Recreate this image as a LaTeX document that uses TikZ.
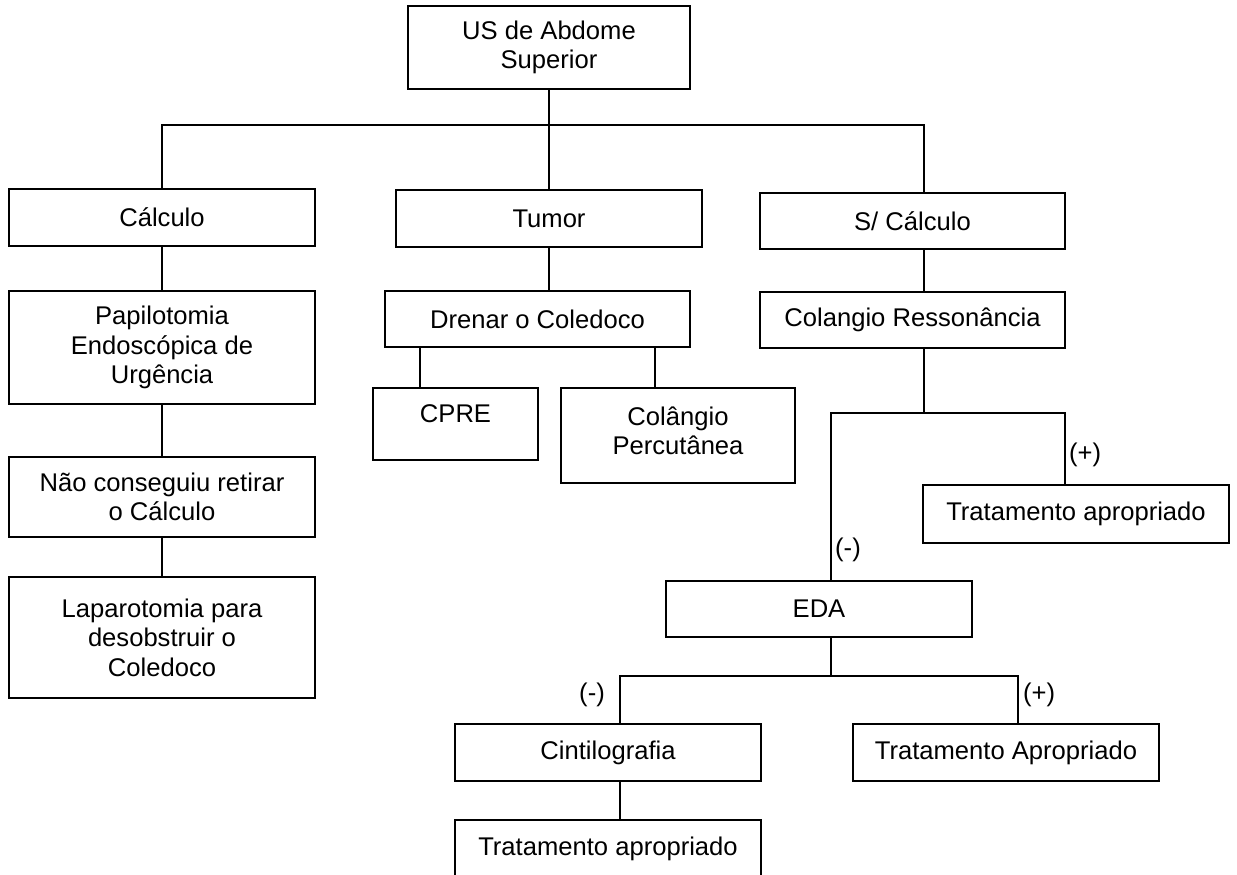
\documentclass[tikz,border=0pt]{standalone}
\usepackage{fontspec}
\setmainfont{Liberation Sans}
\begin{document}
\begin{tikzpicture}[x=1pt,y=-1pt,
  txt/.style={inner sep=0pt, align=center, font=\fontsize{25.6}{29.5}\selectfont},
  box/.style={txt, draw, line width=2.2pt},
  frame/.style={draw, line width=2.2pt, inner sep=0pt},
  link/.style={line width=2pt},
  sign/.style={inner sep=0pt, font=\fontsize{25.6}{29.5}\selectfont}]
\useasboundingbox (0,0) rectangle (1237,875);
\clip (0,0) rectangle (1237,875);

% boxes
\node[box, minimum width=282, minimum height=83] (top) at (549,47.5) {US de Abdome\\Superior};
\node[box, minimum width=306, minimum height=57] (calc) at (162,217.5) {Cálculo};
\node[box, minimum width=306, minimum height=57] (tumor) at (549,218.5) {Tumor};
\node[box, minimum width=305, minimum height=56] (scalc) at (912.5,221) {S/ Cálculo};
\node[box, minimum width=306, minimum height=113] (papi) at (162,347.5) {Papilotomia\\Endoscópica de\\Urgência};
\node[box, minimum width=306, minimum height=80] (nao) at (162,497) {Não conseguiu retirar\\o Cálculo};
\node[box, minimum width=306, minimum height=121] (lap) at (162,637.5) {Laparotomia para\\desobstruir o\\Coledoco};
\node[box, minimum width=305, minimum height=56] (dren) at (537.5,319) {Drenar o Coledoco};
\node[frame, minimum width=165, minimum height=72] (cpre) at (455.5,424) {};
\node[txt] (cpretext) at (455.5,414) {CPRE};
\node[frame, minimum width=234, minimum height=95] (perc) at (678,435.5) {};
\node[txt] (perctext) at (678,431) {Colângio\\Percutânea};
\node[box, minimum width=305, minimum height=56] (colres) at (912.5,320) {Colangio Ressonância};
\node[box, minimum width=306, minimum height=58] (trat1) at (1076,514) {Tratamento apropriado};
\node[box, minimum width=306, minimum height=56] (eda) at (819,609) {EDA};
\node[box, minimum width=306, minimum height=57] (cint) at (608,752.5) {Cintilografia};
\node[box, minimum width=306, minimum height=57] (trat2) at (1006,752.5) {Tratamento Apropriado};
\node[box, minimum width=306, minimum height=57] (trat3) at (608,848.5) {Tratamento apropriado};

% junction points
\coordinate (jr) at (924,125);
\coordinate (dl) at (420,0);
\coordinate (dr) at (655,0);
\coordinate (fm) at (831,413);
\coordinate (fc) at (924,413);
\coordinate (fp) at (1065,413);
\coordinate (km) at (831,676);
\coordinate (kl) at (620,676);
\coordinate (kr) at (1018,676);

% connectors
\draw[link] (top.south) -- (tumor.north);
\draw[link] (calc.north) |- (jr) -- (scalc.north -| jr);
\draw[link] (calc.south) -- (papi.north);
\draw[link] (papi.south) -- (nao.north);
\draw[link] (nao.south) -- (lap.north);
\draw[link] (tumor.south) -- (tumor.south |- dren.north);
\draw[link] (dren.south -| dl) -- (cpre.north -| dl);
\draw[link] (dren.south -| dr) -- (perc.north -| dr);
\draw[link] (scalc.south -| jr) -- (colres.north -| jr);
\draw[link] (colres.south -| fc) -- (fc);
\draw[link] (eda.north -| fm) -- (fm) -- (fp) -- (trat1.north -| fp);
\draw[link] (eda.south -| km) -- (km);
\draw[link] (cint.north -| kl) -- (kl) -- (kr) -- (trat2.north -| kr);
\draw[link] (cint.south -| kl) -- (trat3.north -| kl);

% branch signs
\node[sign, anchor=west] (s1) at (1069,455) {(+)};
\node[sign, anchor=west] (s2) at (835,550) {(-)};
\node[sign, anchor=west] (s3) at (1023,695) {(+)};
\node[sign, anchor=east] (s4) at (605,695) {(-)};
\end{tikzpicture}
\end{document}
